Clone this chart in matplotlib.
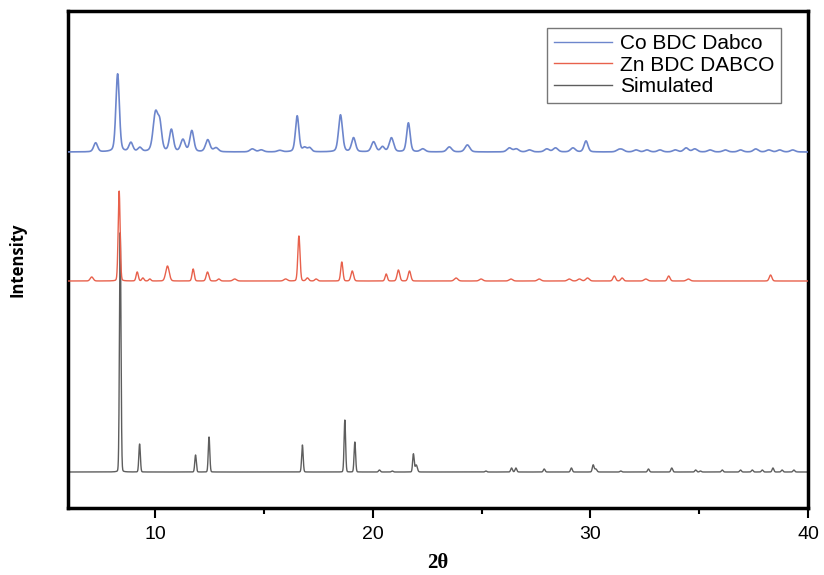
import numpy as np
import matplotlib
matplotlib.use("Agg")
import matplotlib.pyplot as plt
from matplotlib.ticker import MultipleLocator

# ---- data ----
series_names = ["Co BDC Dabco", "Zn BDC DABCO", "Simulated"]

co_pos = [7.27, 8.28, 8.89, 9.30, 10.02, 10.22, 10.75, 11.28, 11.69, 12.42, 12.8,
          14.47, 14.88, 15.73, 16.53, 16.87, 17.1, 18.52, 19.12, 20.04, 20.45,
          20.86, 21.64, 22.3, 23.52, 24.35, 26.28, 26.6, 27.2, 28.0, 28.4, 29.2,
          29.8, 31.3, 31.46, 32.1, 32.6, 33.2, 33.9, 34.4, 34.8, 35.5, 36.2,
          36.9, 37.6, 38.2, 38.7, 39.3]
co_int = [9, 78, 9, 4, 38, 25, 22, 12, 21, 12, 4,
          3, 2, 1.5, 36, 4, 4, 37, 14, 10, 5,
          14, 29, 3, 5, 7, 4, 3, 2, 3, 4, 4,
          11, 2, 2, 2, 2, 2, 2, 4, 3, 2, 2,
          2, 3, 2, 2, 2]
co_wid = [0.09, 0.08, 0.09, 0.09, 0.11, 0.09, 0.09, 0.1, 0.09, 0.1, 0.11,
          0.11, 0.11, 0.11, 0.08, 0.09, 0.09, 0.09, 0.09, 0.1, 0.09,
          0.1, 0.08, 0.11, 0.11, 0.11, 0.11, 0.11, 0.11, 0.11, 0.11, 0.11,
          0.09, 0.11, 0.11, 0.11, 0.11, 0.11, 0.11, 0.11, 0.11, 0.11, 0.11,
          0.11, 0.11, 0.11, 0.11, 0.11]

zn_pos = [7.09, 8.35, 9.18, 9.44, 9.76, 10.57, 11.75, 12.41, 12.93, 13.66, 16.0,
          16.61, 17.0, 17.4, 18.58, 19.06, 20.62, 21.18, 21.69, 23.83, 24.98,
          26.35, 27.65, 29.03, 29.5, 29.87, 31.1, 31.46, 32.55, 33.6, 34.5, 38.28]
zn_int = [4, 90, 9, 3, 2, 15, 12, 9, 2, 2, 2,
          45, 3, 2, 19, 10, 7, 11, 10, 3, 2,
          2, 2, 2, 2, 3, 5, 3, 2, 5, 2, 6]
zn_wid = [0.07, 0.045, 0.05, 0.05, 0.05, 0.08, 0.05, 0.06, 0.06, 0.08, 0.08,
          0.05, 0.06, 0.06, 0.05, 0.06, 0.05, 0.06, 0.06, 0.08, 0.08,
          0.08, 0.08, 0.08, 0.08, 0.08, 0.06, 0.06, 0.08, 0.06, 0.08, 0.06]

sim_pos = [8.4, 9.29, 11.86, 12.48, 16.77, 18.72, 19.18, 20.31, 20.9, 21.87, 22.0,
           25.2, 26.38, 26.58, 27.88, 29.13, 30.13, 30.25, 31.4, 32.67, 33.74,
           34.84, 35.06, 36.06, 36.9, 37.44, 37.9, 38.39, 38.81, 39.35]
sim_int = [240, 28, 17, 35, 27, 52, 30, 2, 1, 18, 7,
           1, 4, 4, 3, 4, 7, 3, 1, 3, 4,
           2, 1, 2, 2, 2, 2, 4, 2, 2]
sim_wid = [0.035, 0.035, 0.035, 0.035, 0.035, 0.035, 0.035, 0.04, 0.04, 0.035, 0.05,
           0.04, 0.04, 0.04, 0.04, 0.04, 0.04, 0.05, 0.04, 0.04, 0.04,
           0.04, 0.04, 0.04, 0.04, 0.04, 0.04, 0.04, 0.04, 0.04]

# vertical stacking offsets of the three patterns
offsets = [356, 227, 36]

colors = ["#6d86cc", "#e8614c", "#5e5e5e"]


def pattern(x, pos, inten, wid, eta):
    # pseudo-Voigt peaks
    y = np.zeros_like(x)
    for p, h, w in zip(pos, inten, wid):
        g = np.exp(-0.5 * ((x - p) / w) ** 2)
        lo = 1.0 / (1.0 + ((x - p) / (1.18 * w)) ** 2)
        y += h * ((1 - eta) * g + eta * lo)
    return y


x = np.linspace(6, 40, 6000)
ys = [pattern(x, co_pos, co_int, co_wid, 0.3),
      pattern(x, zn_pos, zn_int, zn_wid, 0.1),
      pattern(x, sim_pos, sim_int, sim_wid, 0.05)]

fig = plt.figure(figsize=(8.24, 5.75), dpi=100)
ax = fig.add_axes([68 / 824, 1 - 508 / 575, (808 - 68) / 824, (508 - 11) / 575])

zorders = [3, 3, 2]
lws = [1.2, 1.0, 1.0]
for y, off, c, name, z, lw in zip(ys, offsets, colors, series_names, zorders, lws):
    ax.plot(x, y + off, color=c, lw=lw, label=name, zorder=z)

ax.set_xlim(6, 40)
ax.set_ylim(0, 497)
ax.set_yticks([])
ax.xaxis.set_major_locator(MultipleLocator(10))
ax.xaxis.set_minor_locator(MultipleLocator(5))
ax.tick_params(axis="x", which="major", direction="out", length=7, width=1.5,
               labelsize=14, pad=6)
ax.tick_params(axis="x", which="minor", direction="out", length=4, width=1.5)
for lab in ax.get_xticklabels():
    lab.set_family("Liberation Sans")
for s in ax.spines.values():
    s.set_linewidth(2.5)

ax.set_xlabel("2θ", fontsize=15, fontweight="bold", family="Liberation Serif", labelpad=7)
ax.set_ylabel("Intensity", fontsize=12, fontweight="bold", family="Open Sans", labelpad=30)

leg = ax.legend(loc="upper right", bbox_to_anchor=(781 / 824, 1 - 28 / 575),
                bbox_transform=fig.transFigure, frameon=True, fancybox=False,
                edgecolor="#555555", prop={"family": "Liberation Sans", "size": 15},
                handlelength=2.8, handletextpad=0.4, labelspacing=0.12,
                borderpad=0.3, borderaxespad=0)
leg.get_frame().set_linewidth(1.0)
for h in leg.get_lines():
    h.set_linewidth(1.0)

fig.savefig("out.png", dpi=100)
